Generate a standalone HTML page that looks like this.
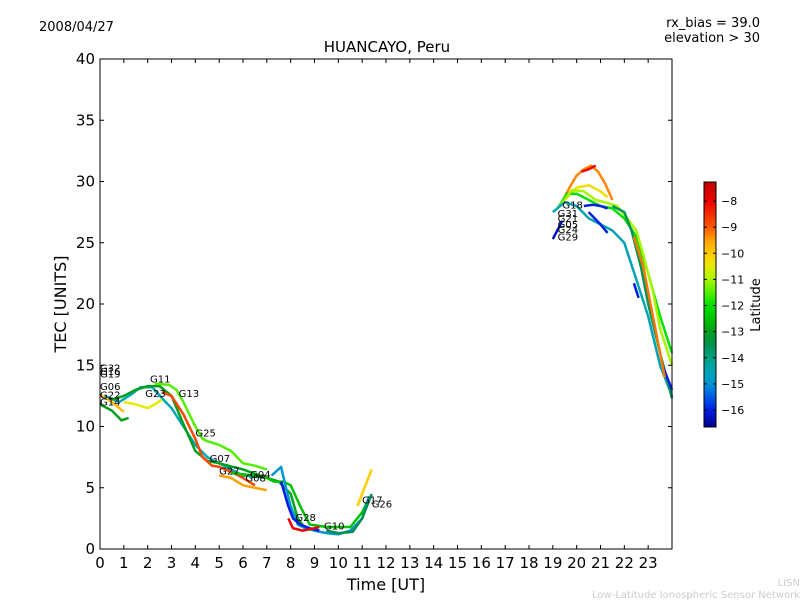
<!DOCTYPE html>
<html><head><meta charset="utf-8"><style>
body{margin:0;background:#fff;}
svg{display:block;font-family:"DejaVu Sans","Liberation Sans",sans-serif;}
</style></head><body>
<svg id="chart" width="800" height="600" viewBox="0 0 800 600">
<rect x="0" y="0" width="800" height="600" fill="#fff"/>
<text x="39" y="31" font-size="13">2008/04/27</text>
<text x="760" y="27" font-size="13" text-anchor="end">rx_bias = 39.0</text>
<text x="760" y="42" font-size="13" text-anchor="end">elevation &gt; 30</text>
<text x="387" y="52" font-size="15" text-anchor="middle">HUANCAYO, Peru</text>
<g id="marks"></g>
<g id="axes"></g>
<rect x="100" y="59" width="572" height="490" fill="none" stroke="#000" stroke-width="1"/>
<text x="386" y="590" font-size="16" text-anchor="middle">Time [UT]</text>
<text x="66" y="304" font-size="16" text-anchor="middle" transform="rotate(-90 66 304)">TEC [UNITS]</text>
<defs><linearGradient id="cmap" x1="0" y1="1" x2="0" y2="0"></linearGradient></defs>
<rect x="704" y="182" width="12" height="245" fill="url(#cmap)" stroke="#000" stroke-width="1"/>
<g id="cbar"></g>
<text x="760" y="305" font-size="13" text-anchor="middle" transform="rotate(-90 760 305)">Latitude</text>
<text x="800" y="586" font-size="10" fill="#ccc" text-anchor="end">LISN</text>
<text x="800" y="598" font-size="10" fill="#ccc" text-anchor="end">Low-Latitude Ionospheric Sensor Network</text>
</svg>
<script>
const xTicks=[0,1,2,3,4,5,6,7,8,9,10,11,12,13,14,15,16,17,18,19,20,21,22,23];
const yTicks=[0,5,10,15,20,25,30,35,40];
const cbarTicks=[-8,-9,-10,-11,-12,-13,-14,-15,-16];
const latMin=-16.65, latMax=-7.27;
const seriesLat=[-13,-9.8,-14.5,-13,-10.5,-11.5,-8.8,-9.5,-12.5,-15,-16,-8,-10,-13.5,-9.3,-10.3,-12,-11,-14.5,-13.6,-16,-16,-16,-16,-9.2,-8,-16.2];
const seriesPts=[
[[0,11.8],[0.5,11.3],[0.9,10.5],[1.2,10.7]],
[[0,12.6],[0.5,12],[1,11.2]],
[[0.2,12.5],[0.8,12],[1.3,12.6],[1.7,13.2],[2.2,13.2],[2.6,12.3],[3,11.5],[3.5,10],[4,8.5],[4.5,7.5],[5,7],[5.5,6.5],[6,6],[7,5.8]],
[[0.5,12.2],[1,12.5],[1.5,13],[2,13.3],[2.5,13.3],[3,12.5],[3.5,10.2],[4,8],[4.5,7.2],[5,7],[6,6.5],[7,5.8],[7.5,5.5],[8,4.5],[8.3,2.5],[8.6,1.7],[9,1.5]],
[[1,12],[1.5,11.8],[2,11.5],[2.3,11.8],[2.6,12.2]],
[[2.3,13.5],[2.9,13.4],[3.2,13],[3.5,12],[4,10],[4.3,9],[4.5,8.8],[5,8.5],[5.5,8],[6,7],[6.5,6.8],[7,6.5]],
[[2.6,12.8],[3,12.5],[3.5,11],[4,9],[4.3,7.5],[4.7,6.8],[5,6.7],[5.5,6.3],[6,5.8],[6.5,5.2]],
[[5,6],[5.5,5.8],[6,5.2],[6.5,5],[7,4.8]],
[[5.5,6.2],[6.5,6],[7,5.8],[7.3,5.5],[7.7,5.5],[8,5.2],[8.4,3.5],[8.8,2],[9.5,1.8],[10,1.8],[10.5,1.8],[11,3],[11.3,4.2]],
[[7.2,6],[7.6,6.7],[7.8,5],[8,3.5],[8.3,2],[8.6,1.7],[9,1.5],[9.5,1.3],[10,1.2],[10.5,1.5],[11,2.5],[11.3,4.3]],
[[7.6,5.5],[7.9,3.5],[8.1,2.5],[8.4,2],[8.8,1.7],[9.2,1.5]],
[[7.9,2.5],[8.1,1.7],[8.5,1.5],[9,1.7],[9.2,1.8]],
[[10.8,3.5],[11.2,5.5],[11.4,6.5]],
[[9.5,1.5],[10,1.3],[10.6,1.4],[11,2.5],[11.4,4.5]],
[[19.3,28],[19.7,29.5],[20,30.5],[20.3,31],[20.6,31.3],[20.9,30.8],[21.2,29.8],[21.5,28.5]],
[[19.5,28.5],[20,29.5],[20.5,29.7],[21,29.2],[21.3,28.7]],
[[19.2,27.8],[19.6,29],[20,29],[20.5,28.5],[21,28],[21.5,27.8],[22,27],[22.5,25.5],[23,22.5],[23.5,19],[24,16]],
[[19.3,28],[19.8,29.3],[20.3,29.2],[20.8,28.5],[21.2,28.3],[21.7,28],[22,27.3],[22.5,26],[22.8,24],[23.2,21],[23.5,18],[24,15]],
[[19,27.5],[19.5,28.3],[20,28],[20.5,27],[21,26.5],[21.5,26],[22,25],[22.5,22],[23,19],[23.5,15],[24,12.5]],
[[21.5,28],[22,27.5],[22.3,26],[22.7,23],[23,20],[23.5,16],[24,12.3]],
[[20.3,28],[20.7,28.1],[21,28],[21.3,27.8]],
[[20.5,27.5],[21,26.5],[21.3,25.8]],
[[22.4,21.7],[22.6,20.5]],
[[23.6,15],[24,13]],
[[22.4,25.5],[22.8,23],[23.2,19],[23.5,16],[23.7,14]],
[[20.2,30.8],[20.5,31],[20.8,31.3]],
[[19,25.3],[19.4,26.8]]
];
const labelNames=["G32","G16","G19","G06","G22","G14","G11","G23","G13","G25","G07","G27","G04","G08","G28","G10","G17","G26","G18","G31","G21","G05","G24","G29"];
const labelT=[0,0,0,0,0,0,2.1,1.9,3.3,4.0,4.6,5.0,6.3,6.1,8.2,9.4,11.0,11.4,19.4,19.2,19.2,19.2,19.2,19.2];
const labelV=[14.5,14.2,14,13,12.3,11.7,13.6,12.4,12.4,9.2,7.1,6.1,5.8,5.5,2.3,1.6,3.7,3.4,27.8,27.1,26.7,26.2,25.8,25.2];
const px=t=>100+t*(572/24), py=v=>549-v*(490/40);
const cmapLat=[-16.65,-16,-15.5,-15,-14.5,-14,-13.5,-13,-12.5,-12,-11.5,-11,-10.5,-10,-9.5,-9,-8,-7.27];
const cmapCol=[[0,0,140],[0,30,225],[0,90,230],[0,150,210],[0,165,180],[0,160,130],[0,145,80],[0,160,30],[0,195,0],[0,225,0],[80,240,0],[170,245,0],[230,235,0],[255,205,0],[255,160,0],[255,90,0],[235,0,0],[190,0,0]];
function cmap(l){l=Math.max(latMin,Math.min(latMax,l));
 for(let i=0;i<cmapLat.length-1;i++){if(l<=cmapLat[i+1]){const f=(l-cmapLat[i])/(cmapLat[i+1]-cmapLat[i]);
  const c=cmapCol[i].map((a,k)=>Math.round(a+(cmapCol[i+1][k]-a)*f));return `rgb(${c})`;}}
 return `rgb(${cmapCol[cmapCol.length-1]})`;}
const NS='http://www.w3.org/2000/svg';
const grad=document.getElementById('cmap');
cmapLat.forEach((l,i)=>{const s=document.createElementNS(NS,'stop');s.setAttribute('offset',(l-latMin)/(latMax-latMin));s.setAttribute('stop-color',`rgb(${cmapCol[i]})`);grad.appendChild(s);});
const marks=document.getElementById('marks'),axes=document.getElementById('axes'),cb=document.getElementById('cbar');
seriesPts.forEach((pts,i)=>{
 const p=document.createElementNS(NS,'polyline');
 p.setAttribute('points',pts.map(q=>px(q[0]).toFixed(1)+','+py(q[1]).toFixed(1)).join(' '));
 p.setAttribute('fill','none');p.setAttribute('stroke',cmap(seriesLat[i]));p.setAttribute('stroke-width','2.5');p.setAttribute('stroke-linejoin','round');
 
 
 marks.appendChild(p);});
labelNames.forEach((n,i)=>{
 const t=document.createElementNS(NS,'text');
 t.setAttribute('x',px(labelT[i]));t.setAttribute('y',py(labelV[i]));t.setAttribute('font-size','10');t.textContent=n;
 
 
 marks.appendChild(t);});
xTicks.forEach(v=>{const x=px(v);
 const l=document.createElementNS(NS,'path');l.setAttribute('d',`M${x},549v-4M${x},59v4`);l.setAttribute('stroke','#000');
 
 
 axes.appendChild(l);
 const t=document.createElementNS(NS,'text');t.setAttribute('x',x);t.setAttribute('y',568);t.setAttribute('font-size','15');t.setAttribute('text-anchor','middle');t.textContent=v;
 
 
 axes.appendChild(t);});
yTicks.forEach(v=>{const y=py(v);
 const l=document.createElementNS(NS,'path');l.setAttribute('d',`M100,${y}h4M672,${y}h-4`);l.setAttribute('stroke','#000');
 
 
 axes.appendChild(l);
 const t=document.createElementNS(NS,'text');t.setAttribute('x',95);t.setAttribute('y',y+5);t.setAttribute('font-size','15');t.setAttribute('text-anchor','end');t.textContent=v;
 
 
 axes.appendChild(t);});
cbarTicks.forEach(v=>{const y=427-(v-latMin)/(latMax-latMin)*245;
 const l=document.createElementNS(NS,'path');l.setAttribute('d',`M704,${y}h3M716,${y}h-3`);l.setAttribute('stroke','#000');
 
 
 cb.appendChild(l);
 const t=document.createElementNS(NS,'text');t.setAttribute('x',721);t.setAttribute('y',y+4);t.setAttribute('font-size','11');t.textContent='\u2212'+Math.abs(v);
 
 
 cb.appendChild(t);});
</script>
</body></html>
